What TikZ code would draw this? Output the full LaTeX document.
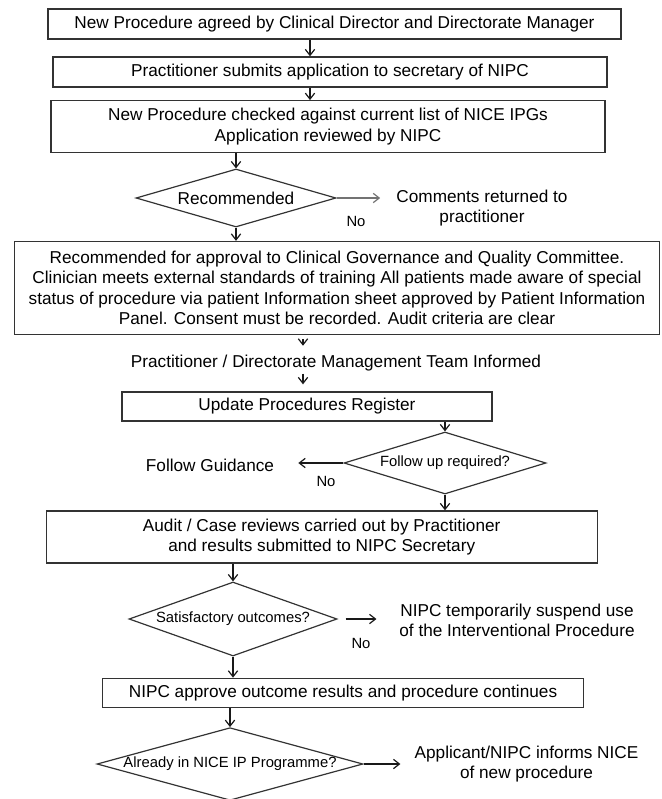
\documentclass[tikz,border=0pt]{standalone}
\usepackage{fontspec}
\setmainfont{Liberation Sans}
\usetikzlibrary{shapes.geometric,arrows.meta}
\newcommand{\flowfont}{\fontsize{12.9}{15.4}\selectfont}
\newcommand{\smallflowfont}{\fontsize{11.1}{13.3}\selectfont}

\begin{document}
\begin{tikzpicture}[x=0.75pt, y=-0.75pt,
    procbox/.style={rectangle, draw=black!80, line width=1pt, inner sep=0pt, align=center, font=\flowfont},
    decision/.style={diamond, draw=black!80, line width=0.9pt, inner sep=0pt, font=\smallflowfont},
    textnode/.style={inner sep=0pt, align=center, font=\flowfont},
    nolabel/.style={inner sep=0pt, font=\smallflowfont},
    arr/.style={-{Straight Barb[length=4.5pt,width=7pt]}, line width=0.9pt, black!90}]
    \useasboundingbox (0,0) rectangle (661,799);

    % Partie haute : demande et examen
    \node[procbox, minimum width=429.75pt, minimum height=22.5pt] (agreed) at (334.5,24) {New Procedure agreed by Clinical Director and Directorate Manager};
    \node[procbox, minimum width=415.5pt, minimum height=22.5pt] (submit) at (330,72) {Practitioner submits application to secretary of NIPC};
    \node[procbox, minimum width=415.5pt, minimum height=38.6pt] (checked) at (328,126.5) {New Procedure checked against current list of NICE IPGs\\Application reviewed by NIPC};

    % Decision : recommande
    \node[decision, shape aspect=3.45, minimum width=150pt, minimum height=43.5pt, font=\flowfont] (recom) at (236,198) {Recommended};
    \node[textnode] (comments) at (482,208) {Comments returned to\\practitioner};
    \node[nolabel] (no1) at (356,221) {No};

    % Approbation et information
    \node[procbox, minimum width=483.75pt, minimum height=69.75pt] (approval) at (337,288) {Recommended for approval to Clinical Governance and Quality Committee.\\Clinician meets external standards of training All patients made aware of special\\status of procedure via patient Information sheet approved by Patient Information\\Panel. Consent must be recorded. Audit criteria are clear};
    \node[textnode] (informed) at (336,363) {Practitioner / Directorate Management Team Informed};
    \node[procbox, minimum width=277.5pt, minimum height=21.75pt] (register) at (307,406.5) {Update Procedures Register};

    % Decision : suivi
    \node[decision, shape aspect=3.26, minimum width=151.5pt, minimum height=46.5pt] (followup) at (445,463) {Follow up required?};
    \node[textnode] (guidance) at (210,465.7) {Follow Guidance};
    \node[nolabel] (no2) at (326,481) {No};
    \node[procbox, minimum width=413.25pt, minimum height=39pt] (audit) at (321.7,537) {Audit / Case reviews carried out by Practitioner\\and results submitted to NIPC Secretary};

    % Decision : resultats
    \node[decision, shape aspect=2.8, minimum width=156pt, minimum height=55.5pt] (outcomes) at (233,619) {Satisfactory outcomes?};
    \node[textnode] (suspend) at (517,620.5) {NIPC temporarily suspend use\\of the Interventional Procedure};
    \node[nolabel] (no3) at (361,643) {No};
    \node[procbox, minimum width=360.75pt, minimum height=22pt] (continues) at (343,693) {NIPC approve outcome results and procedure continues};

    % Decision : programme NICE
    \node[decision, shape aspect=3.66, minimum width=199.5pt, minimum height=54.5pt] (programme) at (230,764) {Already in NICE IP Programme?};
    \node[textnode] (informs) at (526.5,764) {Applicant/NIPC informs NICE\\of new procedure};

    % Fleches
    \coordinate (topx) at (310,0);
    \coordinate (midx) at (303,0);
    \draw[arr] (agreed.south -| topx) -- (submit.north -| topx);
    \draw[arr] (submit.south -| topx) -- (checked.north -| topx);
    \draw[arr] (checked.south -| recom.north) -- (recom.north);
    \draw[arr, black!55, shorten >=12pt] (recom.east) -- (comments.west |- recom.east);
    \draw[arr] (recom.south) -- (recom.south |- approval.north);
    \draw[arr, shorten <=3pt, shorten >=6.75pt] (approval.south -| midx) -- (informed.north -| midx);
    \draw[arr, shorten <=1.8pt, shorten >=5.25pt] (informed.south -| midx) -- (register.north -| midx);
    \draw[arr] (register.south -| followup.north) -- (followup.north);
    \draw[arr, shorten >=18pt] (followup.west) -- (guidance.east |- followup.west);
    \draw[arr] (followup.south) -- (followup.south |- audit.north);
    \draw[arr] (audit.south -| outcomes.north) -- (outcomes.north);
    \draw[arr, shorten <=6pt, shorten >=17pt] (outcomes.east) -- (suspend.west |- outcomes.east);
    \draw[arr] (outcomes.south) -- (outcomes.south |- continues.north);
    \draw[arr] (continues.south -| programme.north) -- (programme.north);
    \draw[arr, shorten >=10.5pt] (programme.east) -- (informs.west |- programme.east);
\end{tikzpicture}
\end{document}
